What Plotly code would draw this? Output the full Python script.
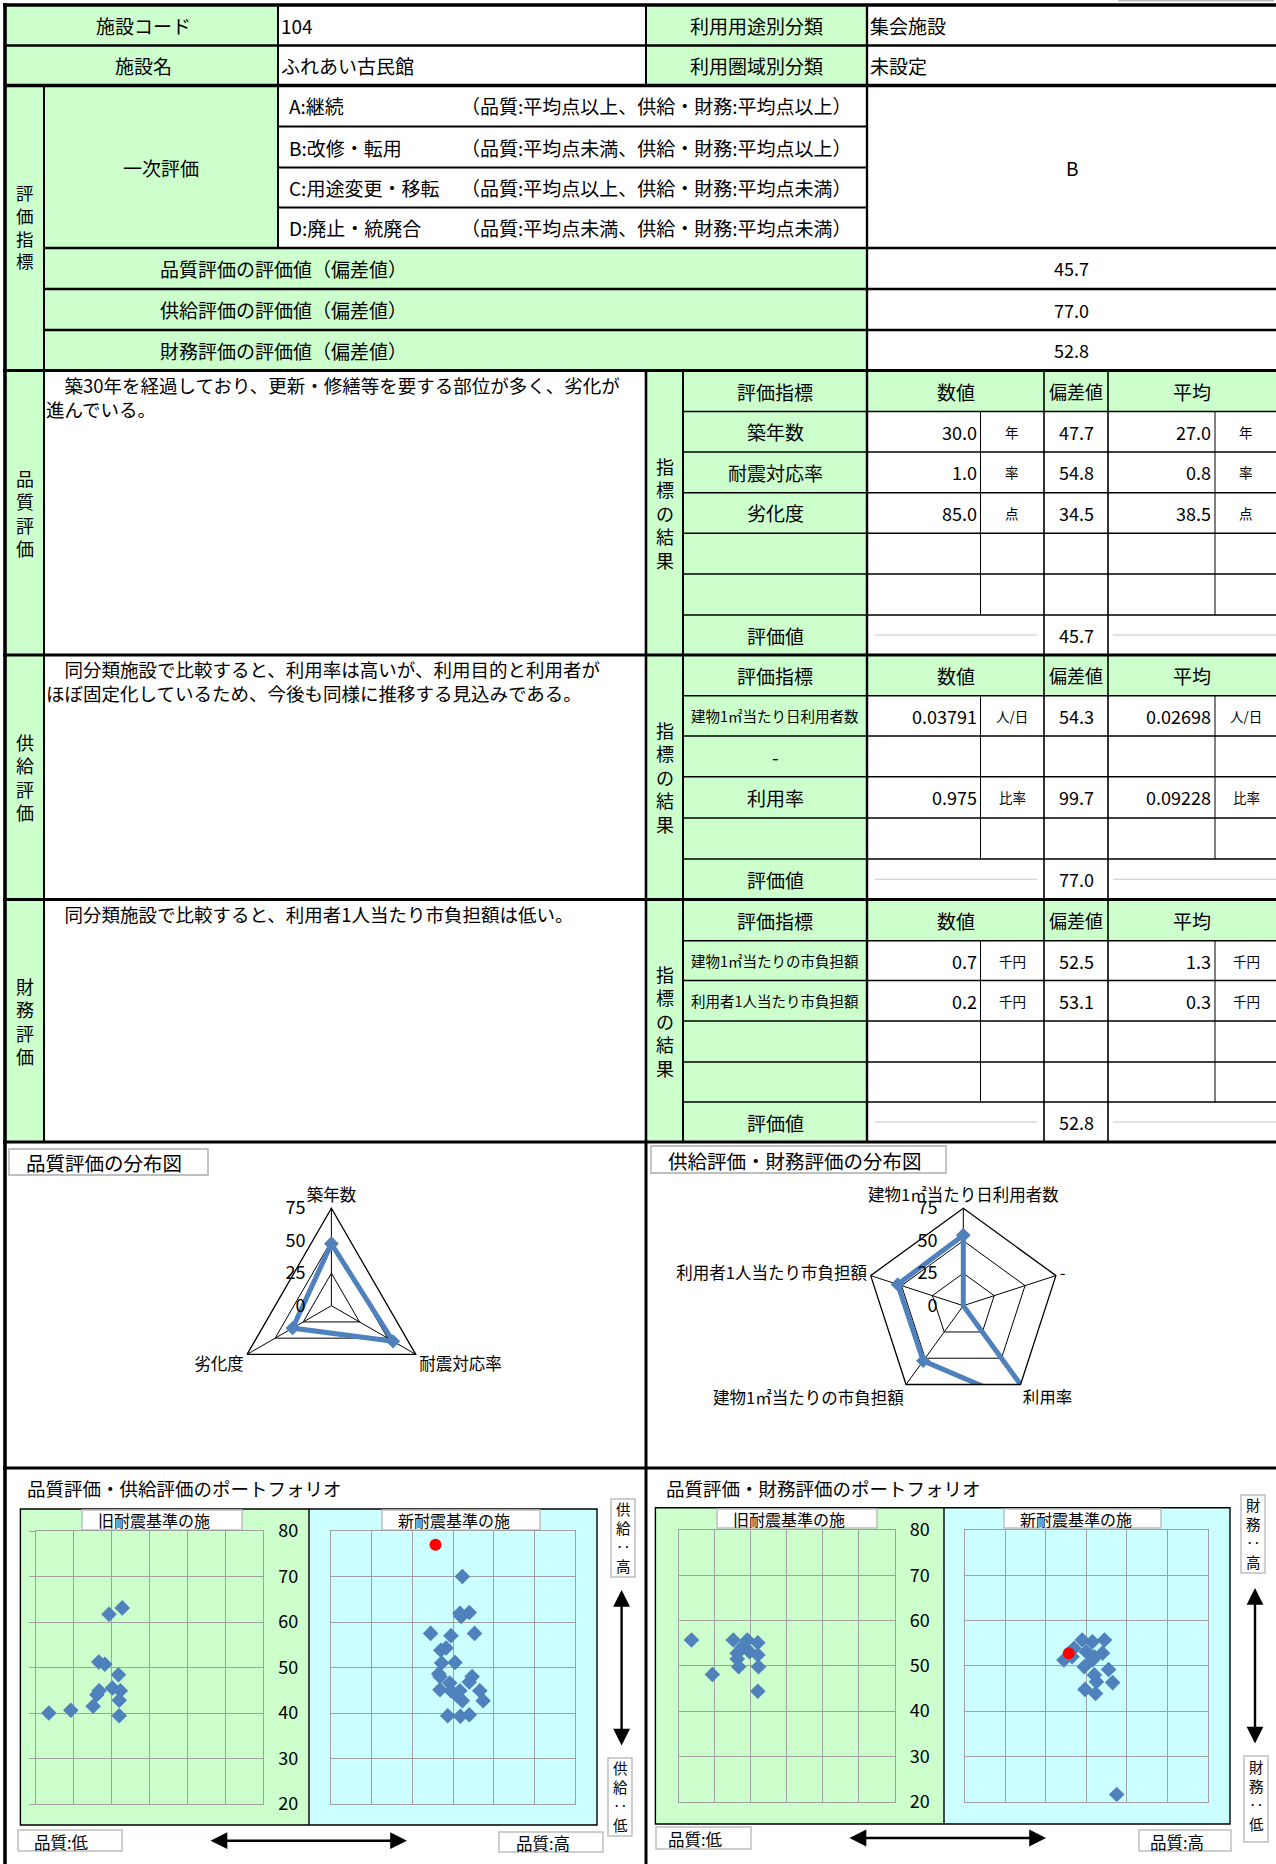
import plotly.graph_objects as go

W, H = 1276, 1864
FONT = "Noto Sans CJK JP"
GREEN = "#CCFFCC"
CYAN = "#CCFFFF"
BLUE = "#4F81BD"
GRID = "#A0A0A0"
BOXLINE = "#BFBFBF"

# ---------------- data ----------------
facility_code = "104"
facility_name = "ふれあい古民館"
use_class = "集会施設"
area_class = "未設定"

eval_codes = ["A:継続", "B:改修・転用", "C:用途変更・移転", "D:廃止・統廃合"]
eval_rules = ["（品質:平均点以上、供給・財務:平均点以上）",
              "（品質:平均点未満、供給・財務:平均点以上）",
              "（品質:平均点以上、供給・財務:平均点未満）",
              "（品質:平均点未満、供給・財務:平均点未満）"]
primary_eval = "B"

score_labels = ["品質評価の評価値（偏差値）", "供給評価の評価値（偏差値）", "財務評価の評価値（偏差値）"]
scores = [45.7, 77.0, 52.8]

quality_comment = ["　築30年を経過しており、更新・修繕等を要する部位が多く、劣化が", "進んでいる。"]
quality_items = ["築年数", "耐震対応率", "劣化度", "", ""]
quality_values = ["30.0", "1.0", "85.0", "", ""]
quality_units = ["年", "率", "点", "", ""]
quality_dev = [47.7, 54.8, 34.5, None, None]
quality_avg = ["27.0", "0.8", "38.5", "", ""]

supply_comment = ["　同分類施設で比較すると、利用率は高いが、利用目的と利用者が",
                  "ほぼ固定化しているため、今後も同様に推移する見込みである。"]
supply_items = ["建物1㎡当たり日利用者数", "-", "利用率", ""]
supply_values = ["0.03791", "", "0.975", ""]
supply_units = ["人/日", "", "比率", ""]
supply_dev = [54.3, None, 99.7, None]
supply_avg = ["0.02698", "", "0.09228", ""]

finance_comment = ["　同分類施設で比較すると、利用者1人当たり市負担額は低い。"]
finance_items = ["建物1㎡当たりの市負担額", "利用者1人当たり市負担額", "", ""]
finance_values = ["0.7", "0.2", "", ""]
finance_units = ["千円", "千円", "", ""]
finance_dev = [52.5, 53.1, None, None]
finance_avg = ["1.3", "0.3", "", ""]

radar1_axes = ["築年数", "耐震対応率", "劣化度"]
radar1_values = [47.7, 54.8, 34.5]
radar2_axes = ["建物1㎡当たり日利用者数", "-", "利用率", "建物1㎡当たりの市負担額", "利用者1人当たり市負担額"]
radar2_values = [54.3, 0, 99.7, 52.5, 53.1]
radar_ticks = [0, 25, 50, 75]

# portfolio 1 : quality (x) vs supply (y)
p1_old_quality = [23.4, 29.2, 35.1, 36.1, 36.7, 36.6, 38.2, 39.3, 42.8, 41.8, 40.2, 42.3, 42.0, 42.0]
p1_old_supply = [40.0, 40.6, 41.5, 44.0, 44.9, 51.2, 50.7, 61.7, 63.1, 48.4, 45.5, 44.9, 42.8, 39.4]
p1_new_quality = [52.3, 51.7, 54.0, 52.0, 44.5, 49.5, 55.3, 47.0, 48.3, 47.2, 50.5, 46.5, 46.8,
                  54.7, 54.0, 49.2, 46.8, 49.5, 51.7, 56.6, 52.3, 57.4, 51.0, 48.7, 51.8, 54.0]
p1_new_supply = [70.0, 61.9, 62.1, 61.2, 57.5, 57.0, 57.5, 53.8, 54.3, 51.0, 51.1, 48.6, 48.0,
                 48.0, 46.8, 46.6, 45.1, 44.9, 44.9, 44.9, 42.7, 42.7, 43.8, 39.4, 39.3, 39.6]
# portfolio 2 : quality (x) vs finance (y)
p2_old_quality = [23.6, 29.4, 35.2, 39.1, 42.0, 37.5, 36.3, 39.7, 42.0, 36.3, 36.7, 42.2, 42.0, 38.0]
p2_old_finance = [55.7, 48.1, 55.7, 55.7, 55.1, 53.9, 52.8, 53.1, 52.4, 51.5, 49.8, 49.8, 44.4, 54.4]
p2_new_quality = [49.0, 51.5, 54.5, 47.0, 50.0, 54.0, 44.5, 46.5, 51.5, 49.5, 55.5, 52.0, 52.5,
                  56.5, 49.7, 52.3, 57.5, 52.0]
p2_new_finance = [55.7, 55.3, 55.7, 53.9, 53.1, 52.8, 51.3, 52.0, 51.3, 49.8, 49.2, 48.0, 46.5,
                  46.3, 44.8, 43.9, 21.6, 52.0]
this_quality = 45.7
this_supply = 77.0
this_finance = 52.8
portfolio_ticks = [20, 30, 40, 50, 60, 70, 80]

# ---------------- helpers ----------------
shapes = []
annos = []


def px(x):
    return x / W


def py(y):
    return 1 - y / H


def rect(x0, y0, x1, y1, fill=None, lw=0, lc="black", layer="below"):
    shapes.append(dict(type="rect", xref="paper", yref="paper", x0=px(x0), x1=px(x1),
                       y0=py(y1), y1=py(y0), layer=layer,
                       fillcolor=fill if fill else "rgba(0,0,0,0)",
                       line=dict(width=lw, color=lc)))


def hl(y, x0, x1, w, c="black"):
    shapes.append(dict(type="line", xref="paper", yref="paper", x0=px(x0), x1=px(x1),
                       y0=py(y), y1=py(y), layer="below", line=dict(width=w, color=c)))


def vl(x, y0, y1, w, c="black"):
    shapes.append(dict(type="line", xref="paper", yref="paper", x0=px(x), x1=px(x),
                       y0=py(y0), y1=py(y1), layer="below", line=dict(width=w, color=c)))


def t(x, y, s, size=19, anchor="center", yanchor="middle", align="center"):
    annos.append(dict(x=px(x), y=py(y), xref="paper", yref="paper", text=s, showarrow=False,
                      xanchor=anchor, yanchor=yanchor, borderpad=0, align=align,
                      font=dict(size=size, color="black", family=FONT)))


def vtext(x, yc, s, size=18):
    t(x, yc, "<br>".join(list(s)), size)


def arrow(x0, y0, x1, y1):
    annos.append(dict(x=px(x1), y=py(y1), ax=x0 - x1, ay=y0 - y1, xref="paper", yref="paper",
                      axref="pixel", ayref="pixel", text="", showarrow=True,
                      arrowhead=2, startarrowhead=2, arrowside="end+start",
                      arrowsize=1.4, startarrowsize=1.4, arrowwidth=2.4, arrowcolor="black",
                      standoff=0, startstandoff=0))


# ---------------- top table ----------------
rect(5, 5, 278, 85.5, GREEN)
rect(646, 5, 867, 85.5, GREEN)
rect(5, 85.5, 278, 248, GREEN)
rect(5, 248, 867, 370.5, GREEN)
rect(1118, 0, 1274, 1.6, "#BBBBBB")

t(143, 25.5, "施設コード")
t(280, 25.5, facility_code, anchor="left")
t(756.5, 25.5, "利用用途別分類")
t(869, 25.5, use_class, anchor="left")
t(143, 65.5, "施設名")
t(280, 65.5, facility_name, anchor="left")
t(756.5, 65.5, "利用圏域別分類")
t(869, 65.5, area_class, anchor="left")

vtext(24.5, 226.5, "評価指標", size=17.5)
t(161, 167, "一次評価")
eval_rows = [85.5, 126.5, 167.5, 207.5, 248]
for i, (c, r) in enumerate(zip(eval_codes, eval_rules)):
    yc = (eval_rows[i] + eval_rows[i + 1]) / 2
    t(288, yc, c, anchor="left")
    t(460, yc, r, anchor="left")
t(1071.5, 167, primary_eval)

score_rows = [248, 289, 330, 370.5]
for i, (lab, val) in enumerate(zip(score_labels, scores)):
    yc = (score_rows[i] + score_rows[i + 1]) / 2
    t(159, yc, lab, anchor="left")
    t(1071.5, yc, f"{val:.1f}", size=18)

hl(5, 3, 1276, 3.4)
hl(45.5, 5, 1276, 2.3)
hl(85.5, 5, 1276, 3.4)
for y in [126.5, 167.5, 207.5]:
    hl(y, 278, 867, 1.8)
for y in [248, 289, 330]:
    hl(y, 44, 1276, 2.3)
vl(44, 85.5, 370.5, 2)
vl(278, 5, 248, 2)
vl(646, 5, 85.5, 2)
vl(867, 5, 370.5, 2.3)


# ---------------- evaluation sections ----------------
def section(b, title, comment, items, values, units, devs, avgs, score):
    top, bot = b[0], b[-1]
    rect(5, top, 44, bot, GREEN)
    rect(646, top, 867, bot, GREEN)
    rect(867, top, 1276, b[1], GREEN)
    vtext(24.5, (top + bot) / 2, title)
    vtext(664.5, (top + bot) / 2, "指標の結果")
    t(45, top, "<br>".join(comment), size=18.5, anchor="left", yanchor="top", align="left")
    hc = (b[0] + b[1]) / 2
    t(775, hc, "評価指標")
    t(955.5, hc, "数値")
    t(1076, hc, "偏差値", size=18)
    t(1192, hc, "平均")
    for i in range(len(items)):
        yc = (b[i + 1] + b[i + 2]) / 2
        it = items[i]
        if it:
            t(775, yc, it, size=14.5 if len(it) > 6 else 19)
        if values[i]:
            t(977.5, yc, values[i], size=18, anchor="right")
            t(1246, yc, units[i], size=13.5)
            t(1012, yc, units[i], size=13.5)
            t(1212, yc, avgs[i], size=18, anchor="right")
        if devs[i] is not None:
            t(1076, yc, f"{devs[i]:.1f}", size=18)
    lc = (b[-2] + b[-1]) / 2
    t(775, lc, "評価値")
    t(1076, lc, f"{score:.1f}", size=18)
    hl(lc, 875, 1037, 1, "#C8C8C8")
    hl(lc, 1113, 1276, 1, "#C8C8C8")
    # borders
    hl(top, 3, 1276, 3.2)
    for y in b[1:-1]:
        hl(y, 683, 1276, 1.6)
    vl(44, top, bot, 2)
    vl(646, top, bot, 2.6)
    vl(683, top, bot, 2)
    vl(867, top, bot, 2.4)
    vl(1044, top, bot, 1.6)
    vl(1108, top, bot, 1.6)
    vl(980.5, b[1], b[-2], 1)
    vl(1215, b[1], b[-2], 1)


sec_q = [370.5, 411.5, 452, 492.7, 533.3, 574, 615, 655]
sec_s = [655, 695.7, 736, 776.7, 818, 859, 899.5]
sec_f = [899.5, 940.7, 980.5, 1021, 1062, 1102, 1142]
section(sec_q, "品質評価", quality_comment, quality_items, quality_values, quality_units,
        quality_dev, quality_avg, scores[0])
section(sec_s, "供給評価", supply_comment, supply_items, supply_values, supply_units,
        supply_dev, supply_avg, scores[1])
section(sec_f, "財務評価", finance_comment, finance_items, finance_values, finance_units,
        finance_dev, finance_avg, scores[2])

hl(1142, 3, 1276, 3.2)
hl(1468, 3, 1276, 3.2)
vl(646, 1142, 1864, 3)
vl(5, 3, 1864, 3.6)

# ---------------- chart titles ----------------
rect(9, 1149, 208, 1175, "white", 1.8, BOXLINE)
t(25, 1162, "品質評価の分布図", size=19.5, anchor="left")
rect(651, 1146, 946, 1173, "white", 1.8, BOXLINE)
t(667, 1160, "供給評価・財務評価の分布図", size=19.5, anchor="left")
# plot-area clipping of the radar line that runs past the chart frame
rect(985, 1404.5, 1110, 1440, "white", 0, "white", layer="above")

# ---------------- portfolios: frames & labels ----------------
t(26, 1488, "品質評価・供給評価のポートフォリオ", size=18.5, anchor="left")
t(665, 1488, "品質評価・財務評価のポートフォリオ", size=18.5, anchor="left")

rect(20.4, 1509, 309, 1825, GREEN)
rect(309, 1509, 597, 1825, CYAN)
rect(20.4, 1509, 597, 1825, None, 1.4, "black")
vl(309, 1509, 1825, 1.4)
rect(655.4, 1507.7, 944, 1824, GREEN)
rect(944, 1507.7, 1230, 1824, CYAN)
rect(655.4, 1507.7, 1230, 1824, None, 1.4, "black")
vl(944, 1507.7, 1824, 1.4)

old_label = "旧耐震基準の施"
new_label = "新耐震基準の施"
for (x0, y0, x1, y1), lab in [((82, 1510, 242, 1530), old_label), ((382, 1510, 540, 1530), new_label),
                              ((717, 1509, 877, 1528), old_label), ((1004, 1509, 1161, 1528), new_label)]:
    rect(x0, y0, x1, y1, "white", 1.5, BOXLINE)
    t(x0 + 15, (y0 + y1) / 2, lab, size=16, anchor="left")

for (x0, y0, x1, y1), lab in [((18, 1830, 122, 1851), "品質:低"), ((499, 1832, 603, 1852), "品質:高"),
                              ((656, 1827, 751, 1849), "品質:低"), ((1139, 1830, 1231, 1851), "品質:高")]:
    rect(x0, y0, x1, y1, "white", 1.5, BOXLINE)
    t((x0 + x1) / 2 - 8, (y0 + y1) / 2 + 1, lab, size=16.5)

for (x0, y0, x1, y1), lab, yc in [((611, 1499, 635, 1577), "供給:高", 1537),
                                  ((608, 1758, 632, 1836), "供給:低", 1796),
                                  ((1241, 1495, 1265, 1573), "財務:高", 1533),
                                  ((1244, 1756, 1268, 1842), "財務:低", 1795)]:
    rect(x0, y0, x1, y1, "white", 1.5, BOXLINE)
    vtext((x0 + x1) / 2, yc, lab.replace(":", "‥"), size=14.5)

arrow(209, 1840.7, 407, 1840.7)
arrow(621.6, 1747, 621.6, 1590)
arrow(848, 1838, 1046, 1838)
arrow(1255, 1745, 1255, 1588)

# ---------------- figure ----------------
fig = go.Figure()

# radar charts
fig.add_trace(go.Scatterpolar(
    r=radar1_values + radar1_values[:1], theta=radar1_axes + radar1_axes[:1],
    mode="lines+markers", line=dict(color=BLUE, width=5),
    marker=dict(symbol="diamond", size=11, color=BLUE), subplot="polar", cliponaxis=False))
fig.add_trace(go.Scatterpolar(
    r=radar2_values + radar2_values[:1], theta=radar2_axes + radar2_axes[:1],
    mode="lines+markers", line=dict(color=BLUE, width=5),
    marker=dict(symbol="diamond", size=11, color=BLUE), subplot="polar2", cliponaxis=False))

# portfolio scatters
mk = dict(symbol="diamond", size=12, color=BLUE)
red = dict(symbol="circle", size=12, color="red")
fig.add_trace(go.Scatter(x=p1_old_quality, y=p1_old_supply, mode="markers", marker=mk, xaxis="x", yaxis="y"))
fig.add_trace(go.Scatter(x=p1_new_quality, y=p1_new_supply, mode="markers", marker=mk, xaxis="x2", yaxis="y2"))
fig.add_trace(go.Scatter(x=[this_quality], y=[this_supply], mode="markers", marker=red, xaxis="x2", yaxis="y2"))
fig.add_trace(go.Scatter(x=p2_old_quality, y=p2_old_finance, mode="markers", marker=mk, xaxis="x3", yaxis="y3"))
fig.add_trace(go.Scatter(x=p2_new_quality, y=p2_new_finance, mode="markers", marker=mk, xaxis="x4", yaxis="y4"))
fig.add_trace(go.Scatter(x=[this_quality], y=[this_finance], mode="markers", marker=red, xaxis="x4", yaxis="y4"))


def xd(a, b):
    return [a / W, b / W]


def yd(top, bottom):
    return [1 - bottom / H, 1 - top / H]


def polar_cfg(cx, cy, r):
    return dict(
        domain=dict(x=xd(cx - r, cx + r), y=yd(cy - r, cy + r)),
        bgcolor="rgba(0,0,0,0)", gridshape="linear", hole=0,
        radialaxis=dict(range=[0, 75], tickvals=radar_ticks, angle=90, side="counterclockwise",
                        showline=False, gridcolor="black", gridwidth=1.2, ticks="outside",
                        ticklen=19, tickcolor="rgba(0,0,0,0)", tickangle=90,
                        tickfont=dict(size=18, family=FONT, color="black")),
        angularaxis=dict(direction="clockwise", rotation=90, showline=True, linecolor="black",
                         linewidth=1.3, gridcolor="black", gridwidth=1.2, ticks="",
                         tickfont=dict(size=16.5, family=FONT, color="black")),
    )


def pax(dom, **kw):
    d = dict(domain=dom, range=[20, 80], tickvals=portfolio_ticks, showgrid=True, gridcolor=GRID,
             gridwidth=1.3, showline=True, mirror=True, linecolor=GRID, linewidth=1.3,
             zeroline=False, showticklabels=False, ticks="", fixedrange=True, automargin=False)
    d.update(kw)
    return d


lab_font = dict(size=18, family=FONT, color="black")
fig.update_layout(
    width=W, height=H, margin=dict(l=0, r=0, t=0, b=0, pad=0, autoexpand=False), autosize=False,
    paper_bgcolor="white", plot_bgcolor="rgba(0,0,0,0)", showlegend=False,
    font=dict(family=FONT, color="black"),
    shapes=shapes, annotations=annos,
    polar=polar_cfg(331.4, 1305.7, 97.4),
    polar2=polar_cfg(963.3, 1305.7, 97.4),
    xaxis=pax(xd(36, 263), anchor="y"),
    yaxis=pax(yd(1531, 1804), anchor="x", ticks="outside", ticklen=6, tickcolor=GRID),
    xaxis2=pax(xd(331, 575), anchor="y2"),
    yaxis2=pax(yd(1531, 1804), anchor="x2", showticklabels=True, tickfont=lab_font,
               ticklabelstandoff=28),
    xaxis3=pax(xd(678.5, 894.8), anchor="y3"),
    yaxis3=pax(yd(1530, 1801.7), anchor="x3"),
    xaxis4=pax(xd(964.5, 1208), anchor="y4"),
    yaxis4=pax(yd(1530, 1801.7), anchor="x4", showticklabels=True, tickfont=lab_font,
               ticklabelstandoff=30),
)

post = ("document.documentElement.style.margin='0';document.body.style.margin='0';"
        "document.body.style.overflow='hidden';"
        "var d=document.getElementById('{plot_id}');d.style.position='absolute';"
        "d.style.left='0px';d.style.top='0px';")
fig.write_html("out.html", post_script=post, config={"displayModeBar": False, "responsive": False})
